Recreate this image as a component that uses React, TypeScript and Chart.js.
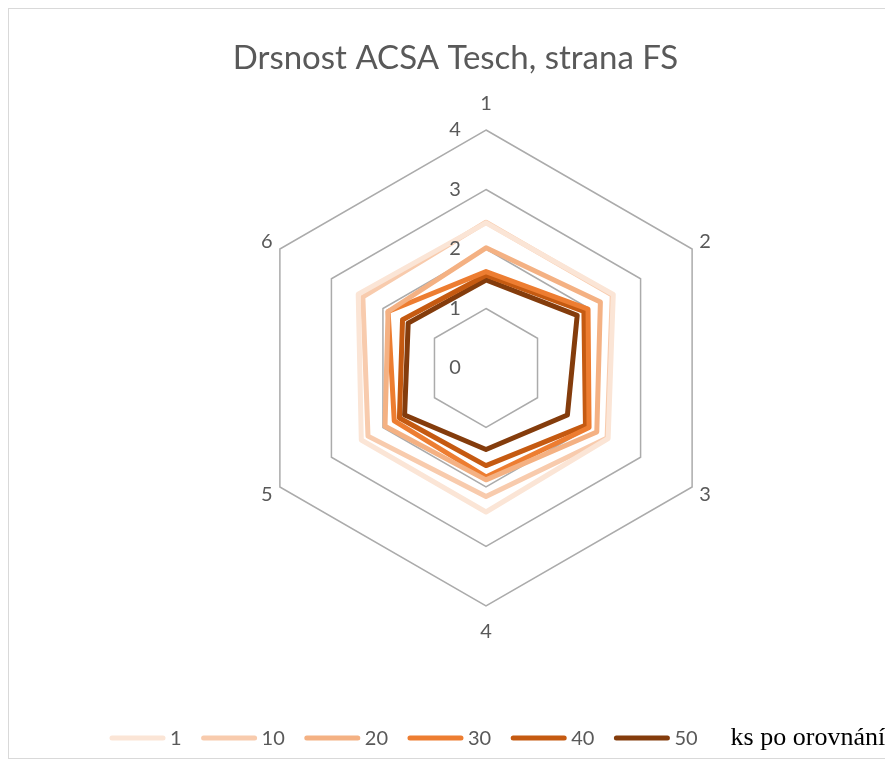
import React, { useEffect, useRef } from 'react';
import { Chart, registerables } from 'chart.js';

Chart.register(...registerables);

const TITLE = 'Drsnost ACSA Tesch, strana FS';
const AXIS_LABELS = ['1', '2', '3', '4', '5', '6'];
const SERIES_NAMES = ['1', '10', '20', '30', '40', '50'];
const S1 = [2.44, 2.47, 2.37, 2.42, 2.42, 2.48];
const S10 = [2.45, 2.45, 2.35, 2.16, 2.29, 2.39];
const S20 = [2.02, 2.22, 2.15, 1.88, 1.96, 1.9];
const S30 = [1.62, 1.98, 2.0, 1.83, 1.78, 1.9];
const S40 = [1.56, 1.9, 1.93, 1.64, 1.68, 1.62];
const S50 = [1.48, 1.77, 1.58, 1.37, 1.58, 1.51];
const SERIES_VALUES = [S1, S10, S20, S30, S40, S50];
const SCALE_MIN = 0;
const SCALE_MAX = 4;
const SCALE_STEP = 1;
const LEGEND_SUFFIX = 'ks po orovnání';

const COLORS = ['#FBE5D6', '#F8CBAD', '#F4B183', '#ED7D31', '#C55A11', '#843C0C'];
const TEXT_COLOR = '#595959';
const LABEL_FONT = '20px Lato, "Open Sans", sans-serif';
const LABEL_GAP = [26, 15, 15, 26, 15, 15];

const CANVAS_W = 883;
const CANVAS_H = 749;

const overlayPlugin = {
  id: 'overlay',
  afterDraw(chart: any) {
    const ctx = chart.ctx as CanvasRenderingContext2D;
    const s = chart.scales.r;
    ctx.save();
    ctx.fillStyle = TEXT_COLOR;
    ctx.font = LABEL_FONT;
    ctx.textAlign = 'center';
    ctx.textBaseline = 'middle';
    // tick labels (left of the vertical axis)
    s.ticks.forEach((t: any) => {
      const d = s.getDistanceFromCenterForValue(t.value);
      ctx.fillText(String(t.value), s.xCenter - 31, s.yCenter - d);
    });
    // point labels
    (chart.data.labels as string[]).forEach((lab, i) => {
      const p = s.getPointPosition(i, s.drawingArea + LABEL_GAP[i]);
      ctx.fillText(lab, p.x, p.y);
    });
    // legend
    const ly = 729;
    let x = 101;
    ctx.textAlign = 'left';
    chart.data.datasets.forEach((ds: any) => {
      ctx.strokeStyle = ds.borderColor;
      ctx.lineWidth = 5;
      ctx.lineCap = 'round';
      ctx.beginPath();
      ctx.moveTo(x + 2, ly);
      ctx.lineTo(x + 53, ly);
      ctx.stroke();
      ctx.fillStyle = TEXT_COLOR;
      ctx.font = LABEL_FONT;
      ctx.fillText(ds.label, x + 60, ly + 1);
      const w = ctx.measureText(ds.label).width;
      x = x + 60 + w + 20;
    });
    ctx.fillStyle = '#000000';
    ctx.font = '26px "Liberation Serif", "Times New Roman", serif';
    ctx.fillText(LEGEND_SUFFIX, x + 13, ly);
    ctx.restore();
  },
};

export default function App() {
  const ref = useRef<HTMLCanvasElement | null>(null);

  useEffect(() => {
    if (!ref.current) return;
    const chart = new Chart(ref.current, {
      type: 'radar',
      data: {
        labels: AXIS_LABELS,
        datasets: SERIES_NAMES.map((name, i) => ({
          label: name,
          data: SERIES_VALUES[i],
          borderColor: COLORS[i],
          backgroundColor: COLORS[i],
          borderWidth: 5,
          pointRadius: 0,
          pointHoverRadius: 0,
          fill: false,
          borderJoinStyle: 'round' as const,
        })),
      },
      options: {
        responsive: false,
        devicePixelRatio: 1,
        animation: false,
        layout: { padding: { left: 10 } },
        plugins: {
          legend: { display: false },
          tooltip: { enabled: false },
          title: {
            display: true,
            text: TITLE,
            color: TEXT_COLOR,
            font: { family: 'Lato, "Open Sans", sans-serif', size: 33, weight: 'normal' },
            padding: { top: 30, bottom: 10 },
          },
        },
        scales: {
          r: {
            min: SCALE_MIN,
            max: SCALE_MAX,
            ticks: { stepSize: SCALE_STEP, display: false },
            grid: { color: '#ABABAB', lineWidth: 1.5 },
            angleLines: { display: false },
            pointLabels: { display: false },
            afterFit: (s: any) => {
              s.xCenter = 477;
              s.yCenter = 359;
              s.drawingArea = 238;
            },
          },
        },
      },
      plugins: [overlayPlugin],
    });
    return () => chart.destroy();
  }, []);

  return (
    <div
      style={{
        position: 'relative',
        width: 885,
        height: 751,
        border: '1px solid #D9D9D9',
        boxSizing: 'border-box',
        background: '#fff',
      }}
    >
      <canvas ref={ref} width={CANVAS_W} height={CANVAS_H} style={{ display: 'block' }} />
    </div>
  );
}
